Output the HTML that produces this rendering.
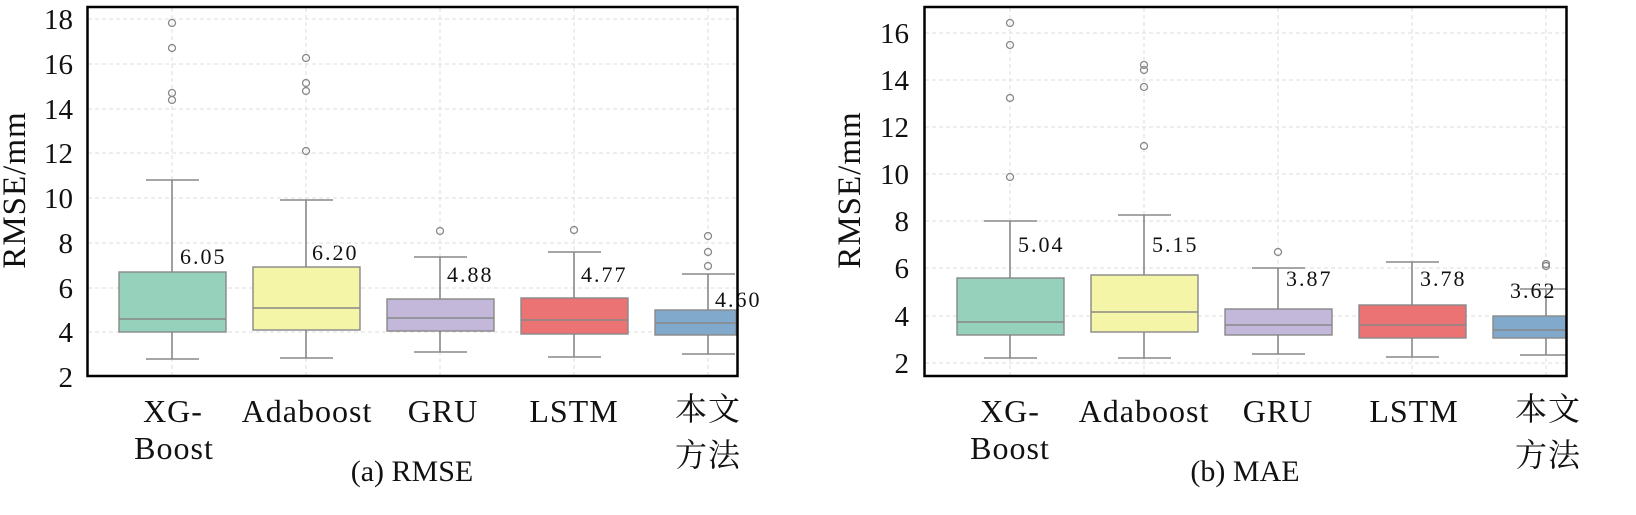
<!DOCTYPE html>
<html><head><meta charset="utf-8"><style>
body{margin:0;background:#fff}
svg text{font-family:"Liberation Serif","Noto Serif CJK SC",serif;fill:#111}
.g{stroke:#ddd;stroke-width:1;stroke-dasharray:4,3}
.w{stroke:#888;stroke-width:1.6;fill:none}
.o{fill:none;stroke:#888;stroke-width:1.3}
.b{stroke:#888;stroke-width:1.4}
.t{font-size:29px}
.x{font-size:32px;letter-spacing:1px}
.c{font-size:30px}
.y{font-size:33px;letter-spacing:1px}
.v{font-size:22px;letter-spacing:2px}
</style></head><body>
<svg width="1636" height="510" viewBox="0 0 1636 510" xmlns="http://www.w3.org/2000/svg">
<!-- LEFT -->
<g>
<g class="g">
<line x1="88" x2="737" y1="19" y2="19"/><line x1="88" x2="737" y1="64" y2="64"/><line x1="88" x2="737" y1="109" y2="109"/><line x1="88" x2="737" y1="153" y2="153"/><line x1="88" x2="737" y1="198" y2="198"/><line x1="88" x2="737" y1="243" y2="243"/><line x1="88" x2="737" y1="288" y2="288"/><line x1="88" x2="737" y1="332" y2="332"/>
<line x1="172" x2="172" y1="8" y2="375"/><line x1="306" x2="306" y1="8" y2="375"/><line x1="440" x2="440" y1="8" y2="375"/><line x1="574" x2="574" y1="8" y2="375"/><line x1="708" x2="708" y1="8" y2="375"/>
</g>
<line class="w" x1="172" x2="172" y1="180" y2="272"/><line class="w" x1="172" x2="172" y1="332" y2="359"/>
<line class="w" x1="146" x2="199" y1="180" y2="180"/><line class="w" x1="146" x2="199" y1="359" y2="359"/>
<rect class="b" x="119" y="272" width="107" height="60" fill="#96d1bb"/><line class="w" x1="119" x2="226" y1="319" y2="319"/>
<circle class="o" cx="172" cy="23" r="3.5"/><circle class="o" cx="172" cy="48" r="3.5"/><circle class="o" cx="172" cy="93" r="3.5"/><circle class="o" cx="172" cy="100" r="3.5"/>
<line class="w" x1="306" x2="306" y1="200" y2="267"/><line class="w" x1="306" x2="306" y1="330" y2="358"/>
<line class="w" x1="280" x2="333" y1="200" y2="200"/><line class="w" x1="280" x2="333" y1="358" y2="358"/>
<rect class="b" x="253" y="267" width="107" height="63" fill="#f5f5a8"/><line class="w" x1="253" x2="360" y1="308" y2="308"/>
<circle class="o" cx="306" cy="58" r="3.5"/><circle class="o" cx="306" cy="83" r="3.5"/><circle class="o" cx="306" cy="91" r="3.5"/><circle class="o" cx="306" cy="151" r="3.5"/>
<line class="w" x1="440" x2="440" y1="257" y2="299"/><line class="w" x1="440" x2="440" y1="331" y2="352"/>
<line class="w" x1="414" x2="467" y1="257" y2="257"/><line class="w" x1="414" x2="467" y1="352" y2="352"/>
<rect class="b" x="387" y="299" width="107" height="32" fill="#c3b7da"/><line class="w" x1="387" x2="494" y1="318" y2="318"/>
<circle class="o" cx="440" cy="231" r="3.5"/>
<line class="w" x1="574" x2="574" y1="252" y2="298"/><line class="w" x1="574" x2="574" y1="334" y2="357"/>
<line class="w" x1="548" x2="601" y1="252" y2="252"/><line class="w" x1="548" x2="601" y1="357" y2="357"/>
<rect class="b" x="521" y="298" width="107" height="36" fill="#ec7373"/><line class="w" x1="521" x2="628" y1="320" y2="320"/>
<circle class="o" cx="574" cy="230" r="3.5"/>
<line class="w" x1="708" x2="708" y1="274" y2="310"/><line class="w" x1="708" x2="708" y1="335" y2="354"/>
<line class="w" x1="682" x2="735" y1="274" y2="274"/><line class="w" x1="682" x2="735" y1="354" y2="354"/>
<rect class="b" x="655" y="310" width="81" height="25" fill="#80a9cb"/><line class="w" x1="655" x2="736" y1="323" y2="323"/>
<circle class="o" cx="708" cy="236" r="3.5"/><circle class="o" cx="708" cy="252" r="3.5"/><circle class="o" cx="708" cy="266" r="3.5"/>
<text class="v" x="180" y="264">6.05</text><text class="v" x="312" y="260">6.20</text><text class="v" x="447" y="282">4.88</text><text class="v" x="581" y="282">4.77</text><text class="v" x="715" y="307">4.60</text>
<rect x="87.5" y="7" width="650" height="369" fill="none" stroke="#000" stroke-width="2.5"/>
<g class="t" text-anchor="end"><text x="73" y="29">18</text><text x="73" y="74">16</text><text x="73" y="119">14</text><text x="73" y="163">12</text><text x="73" y="208">10</text><text x="73" y="253">8</text><text x="73" y="298">6</text><text x="73" y="342">4</text><text x="73" y="387">2</text></g>
<text class="y" transform="translate(25,190) rotate(-90)" text-anchor="middle">RMSE/mm</text>
<g class="x" text-anchor="middle"><text x="173" y="422">XG-</text><text x="174" y="459">Boost</text><text x="307" y="422">Adaboost</text><text x="443" y="422">GRU</text><text x="574" y="422">LSTM</text><text x="708" y="420">本文</text><text x="708" y="466">方法</text></g>
<text class="c" x="412" y="481" text-anchor="middle">(a) RMSE</text>
</g>
<!-- RIGHT -->
<g>
<g class="g">
<line x1="925" x2="1566" y1="33" y2="33"/><line x1="925" x2="1566" y1="80" y2="80"/><line x1="925" x2="1566" y1="127" y2="127"/><line x1="925" x2="1566" y1="174" y2="174"/><line x1="925" x2="1566" y1="221" y2="221"/><line x1="925" x2="1566" y1="268" y2="268"/><line x1="925" x2="1566" y1="316" y2="316"/><line x1="925" x2="1566" y1="363" y2="363"/>
<line x1="1010" x2="1010" y1="8" y2="375"/><line x1="1144" x2="1144" y1="8" y2="375"/><line x1="1278" x2="1278" y1="8" y2="375"/><line x1="1412" x2="1412" y1="8" y2="375"/><line x1="1546" x2="1546" y1="8" y2="375"/>
</g>
<line class="w" x1="1010" x2="1010" y1="221" y2="278"/><line class="w" x1="1010" x2="1010" y1="335" y2="358"/>
<line class="w" x1="984" x2="1037" y1="221" y2="221"/><line class="w" x1="984" x2="1037" y1="358" y2="358"/>
<rect class="b" x="957" y="278" width="107" height="57" fill="#96d1bb"/><line class="w" x1="957" x2="1064" y1="322" y2="322"/>
<circle class="o" cx="1010" cy="23" r="3.5"/><circle class="o" cx="1010" cy="45" r="3.5"/><circle class="o" cx="1010" cy="98" r="3.5"/><circle class="o" cx="1010" cy="177" r="3.5"/>
<line class="w" x1="1144" x2="1144" y1="215" y2="275"/><line class="w" x1="1144" x2="1144" y1="332" y2="358"/>
<line class="w" x1="1118" x2="1171" y1="215" y2="215"/><line class="w" x1="1118" x2="1171" y1="358" y2="358"/>
<rect class="b" x="1091" y="275" width="107" height="57" fill="#f5f5a8"/><line class="w" x1="1091" x2="1198" y1="312" y2="312"/>
<circle class="o" cx="1144" cy="65" r="3.5"/><circle class="o" cx="1144" cy="70" r="3.5"/><circle class="o" cx="1144" cy="87" r="3.5"/><circle class="o" cx="1144" cy="146" r="3.5"/>
<line class="w" x1="1278" x2="1278" y1="268" y2="309"/><line class="w" x1="1278" x2="1278" y1="335" y2="354"/>
<line class="w" x1="1252" x2="1305" y1="268" y2="268"/><line class="w" x1="1252" x2="1305" y1="354" y2="354"/>
<rect class="b" x="1225" y="309" width="107" height="26" fill="#c3b7da"/><line class="w" x1="1225" x2="1332" y1="325" y2="325"/>
<circle class="o" cx="1278" cy="252" r="3.5"/>
<line class="w" x1="1412" x2="1412" y1="262" y2="305"/><line class="w" x1="1412" x2="1412" y1="338" y2="357"/>
<line class="w" x1="1386" x2="1439" y1="262" y2="262"/><line class="w" x1="1386" x2="1439" y1="357" y2="357"/>
<rect class="b" x="1359" y="305" width="107" height="33" fill="#ec7373"/><line class="w" x1="1359" x2="1466" y1="325" y2="325"/>
<line class="w" x1="1546" x2="1546" y1="289" y2="316"/><line class="w" x1="1546" x2="1546" y1="338" y2="355"/>
<line class="w" x1="1520" x2="1566" y1="289" y2="289"/><line class="w" x1="1520" x2="1566" y1="355" y2="355"/>
<rect class="b" x="1493" y="316" width="73" height="22" fill="#80a9cb"/><line class="w" x1="1493" x2="1566" y1="330" y2="330"/>
<circle class="o" cx="1546" cy="264" r="3.5"/><circle class="o" cx="1546" cy="266" r="3.5"/>
<text class="v" x="1018" y="252">5.04</text><text class="v" x="1152" y="252">5.15</text><text class="v" x="1286" y="286">3.87</text><text class="v" x="1420" y="286">3.78</text><text class="v" x="1510" y="298">3.62</text>
<rect x="924.5" y="7" width="642" height="369" fill="none" stroke="#000" stroke-width="2.5"/>
<g class="t" text-anchor="end"><text x="909" y="43">16</text><text x="909" y="90">14</text><text x="909" y="137">12</text><text x="909" y="184">10</text><text x="909" y="231">8</text><text x="909" y="278">6</text><text x="909" y="326">4</text><text x="909" y="373">2</text></g>
<text class="y" transform="translate(860,190) rotate(-90)" text-anchor="middle">RMSE/mm</text>
<g class="x" text-anchor="middle"><text x="1010" y="422">XG-</text><text x="1010" y="459">Boost</text><text x="1144" y="422">Adaboost</text><text x="1278" y="422">GRU</text><text x="1414" y="422">LSTM</text><text x="1548" y="420">本文</text><text x="1548" y="466">方法</text></g>
<text class="c" x="1245" y="481" text-anchor="middle">(b) MAE</text>
</g>
</svg>
</body></html>
